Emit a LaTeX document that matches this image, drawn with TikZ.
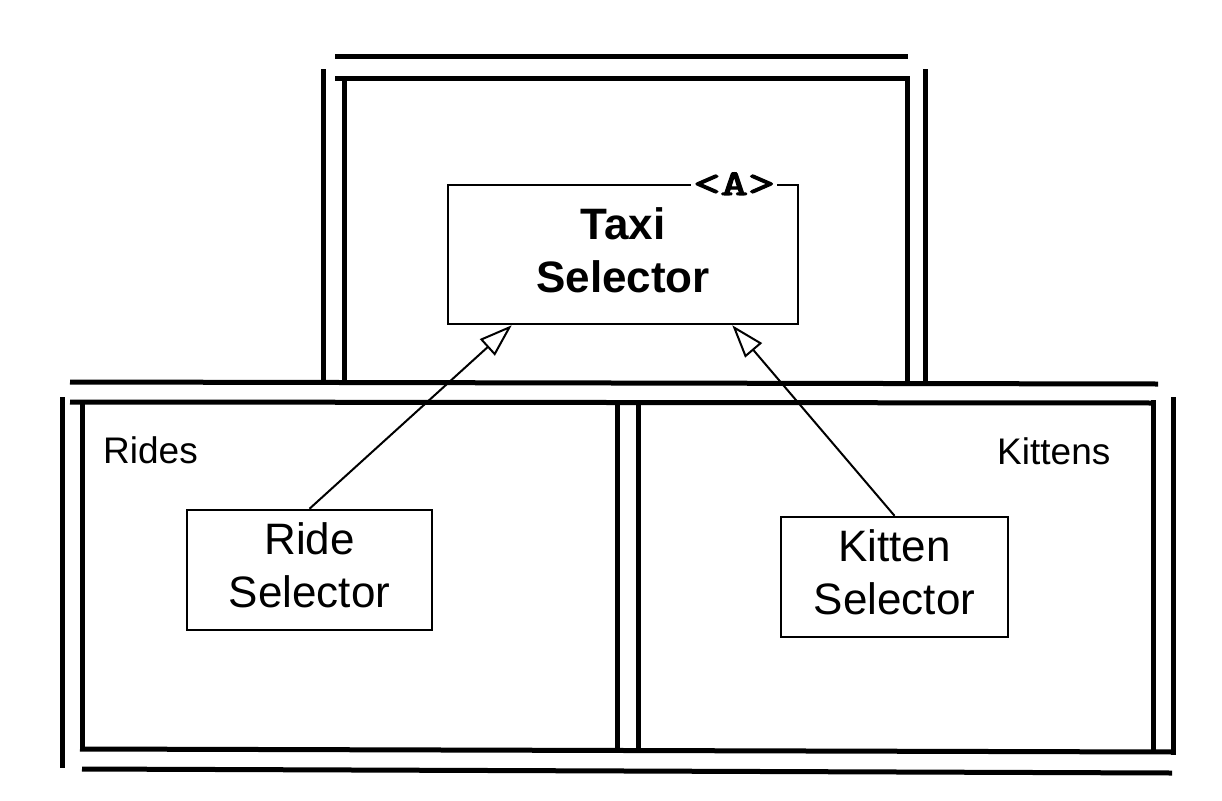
\documentclass[tikz,border=0pt]{standalone}
\usepackage{fontspec}
\usepackage{graphicx}
\setmainfont{Liberation Sans}
\newfontfamily\codefont{lmmono10-regular.otf}[FakeBold=3]
\usetikzlibrary{arrows.meta,calc}

% extra depth under the last line lifts the text block inside its box
\newcommand{\liftline}{\rule[-9pt]{0pt}{9pt}}

\begin{document}
\begin{tikzpicture}[x=1pt,y=-1pt,
  wall/.style={line width=5pt, line cap=butt},
  classbox/.style={draw, line width=2.5pt, align=center, inner sep=0pt,
    font=\fontsize{44}{53}\selectfont},
  pkglabel/.style={font=\fontsize{37}{44}\selectfont, inner sep=0pt, anchor=base west},
  typeparam/.style={fill=white, inner xsep=2pt, inner ysep=1pt,
    font=\codefont\fontsize{40}{40}\selectfont},
  inherit/.style={line width=2pt,
    -{Triangle[open, length=33pt, width=22pt, line width=2pt]}},
]
\useasboundingbox (0,0) rectangle (1222,800);

% upper module walls
\draw[wall] (335,57) -- (908,57);
\draw[wall] (335,78) -- (909,78);
\draw[wall] (323,69) -- (323,382);
\draw[wall] (344,78) -- (344,382);
\draw[wall] (907,76) -- (907,382);
\draw[wall] (925,69) -- (925,382);

% lower module walls
\draw[wall] (70,382) -- (1158,384);
\draw[wall] (70,402) -- (1155,403);
\draw[wall] (62,397) -- (62,768);
\draw[wall] (82,402) -- (82,750);
\draw[wall] (617,402) -- (617,750);
\draw[wall] (638,402) -- (638,751);
\draw[wall] (1153,400) -- (1153,752);
\draw[wall] (1173,397) -- (1173,755);
\draw[wall] (80,749) -- (1175,752);
\draw[wall] (82,769) -- (1172,773);

% package names
\node[pkglabel] (rides) at (103,463) {Rides};
\node[pkglabel] (kittens) at (997,464) {Kittens};

% classes
\node[classbox, minimum width=350pt, minimum height=139pt] (taxi) at (623,254.5)
  {\bfseries Taxi\\\bfseries Selector\liftline};
\node[typeparam] (tparam) at ($(taxi.north east)+(-65,0)$)
  {\scalebox{1.3}[0.9]{<A>}};
\node[classbox, minimum width=245pt, minimum height=120pt] (ride) at (309.5,570)
  {Ride\\Selector\liftline};
\node[classbox, minimum width=227pt, minimum height=120pt] (kitten) at (894.5,577)
  {Kitten\\Selector\liftline};

% generalisations
\draw[inherit] (ride.north) -- ($(taxi.south west)+(65,0)$);
\draw[inherit] (kitten.north) -- ($(taxi.south east)+(-67,0)$);
\end{tikzpicture}
\end{document}
